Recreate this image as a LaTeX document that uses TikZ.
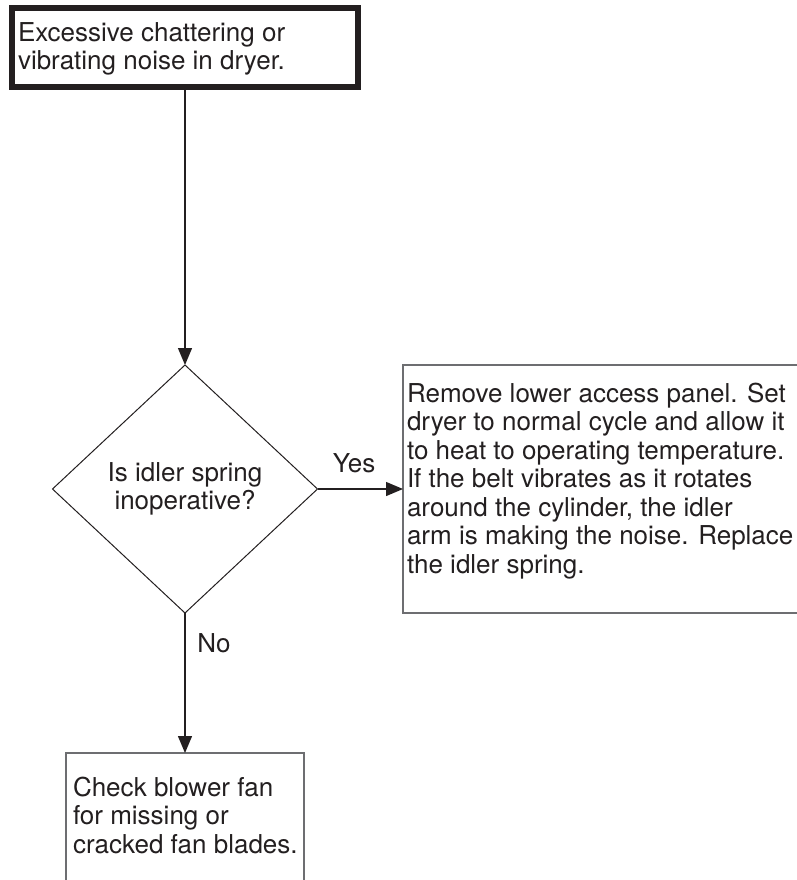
\documentclass[tikz,border=0pt]{standalone}
\usepackage{fontspec}
\setmainfont{TeX Gyre Heros}
\usetikzlibrary{shapes.geometric,arrows.meta}
\definecolor{ink}{HTML}{231F20}
\definecolor{framegray}{HTML}{6D6E71}
\begin{document}
\begin{tikzpicture}[x=1pt,y=-1pt,
  bodytext/.style={inner sep=0pt, outer sep=0pt, align=left, anchor=north west,
    font=\fontsize{26}{28}\selectfont, text=ink},
  longtext/.style={bodytext, font=\fontsize{26}{28.5}\selectfont},
  startbox/.style={draw=ink, line width=6pt, inner sep=0pt, outer sep=0pt, anchor=north west},
  plainbox/.style={draw=framegray, line width=1.4pt, inner sep=0pt, outer sep=0pt, anchor=north west},
  decision/.style={diamond, draw=ink, line width=1pt, inner sep=0pt, outer sep=0pt,
    minimum width=265pt, minimum height=248pt, align=center,
    font=\fontsize{26}{28}\selectfont, text=ink},
  flow/.style={draw=ink, line width=1.3pt, -{Triangle[length=17pt,width=14pt]}},
  answer/.style={inner sep=0pt, anchor=base, font=\fontsize{26}{28}\selectfont, text=ink}
]
\useasboundingbox (0,0) rectangle (797,880);

% boxes
\node[startbox, minimum width=346pt, minimum height=79pt] (start) at (12,8) {};
\node[bodytext] (starttext) at (18,23) {Excessive chattering or\\vibrating noise in dryer.};

\node[decision] (dec) at (185,489) {Is idler spring\\inoperative?};

\node[plainbox, minimum width=400pt, minimum height=248pt] (yesbox) at (403,365) {};
\node[longtext] (yestext) at (407,383) {Remove lower access panel. Set\\dryer to normal cycle and allow it\\to heat to operating temperature.\\If the belt vibrates as it rotates\\around the cylinder, the idler\\arm is making the noise. Replace\\the idler spring.};

\node[plainbox, minimum width=238pt, minimum height=140pt] (nobox) at (66,753) {};
\node[bodytext, font=\fontsize{26}{28.5}\selectfont] (notext) at (73,777) {Check blower fan\\for missing or\\cracked fan blades.};

% connectors
\draw[flow] (start.south) -- (dec.north);
\draw[flow] (dec.east) -- (dec.east -| yesbox.west);
\draw[flow] (dec.south) -- (nobox.north);

% labels
\node[answer] (yeslabel) at (354,472) {Yes};
\node[answer] (nolabel) at (214,652) {No};
\end{tikzpicture}
\end{document}
